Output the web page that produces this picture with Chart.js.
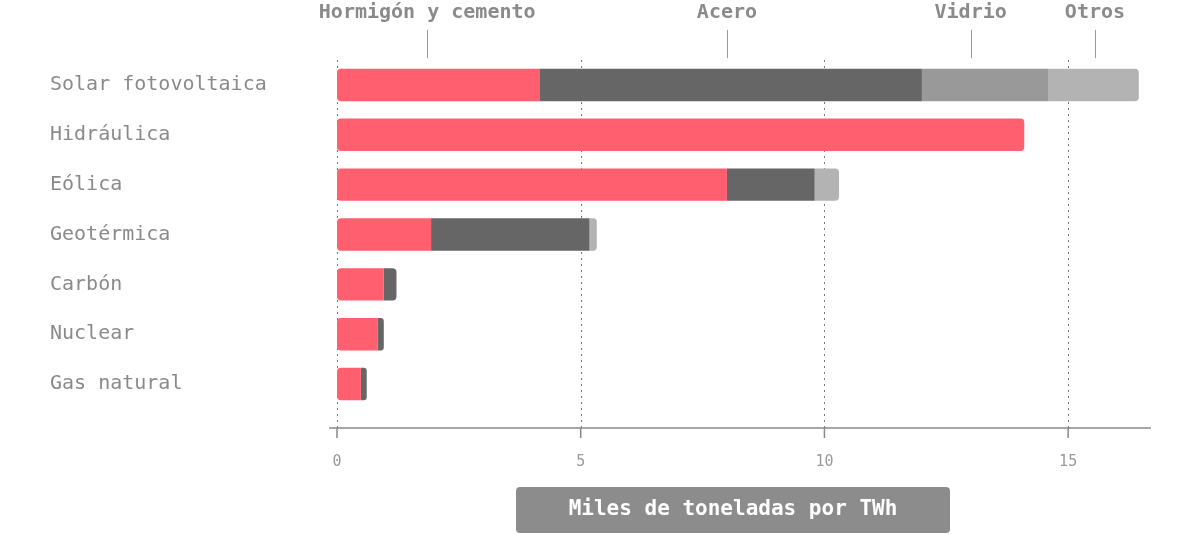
<!DOCTYPE html><html><head><meta charset="utf-8">
<script src="https://cdn.jsdelivr.net/npm/chart.js@4"></script>
<style>body{margin:0;background:#fff}#w{width:1201px;height:535px}</style></head><body>
<div id="w"><canvas id="c"></canvas></div>
<script>
const categories=["Solar fotovoltaica","Hidráulica","Eólica","Geotérmica","Carbón","Nuclear","Gas natural"];
const seriesNames=["Hormigón y cemento","Acero","Vidrio","Otros"];
const hormigon=[4.15,14.1,8.0,1.93,0.96,0.83,0.49];
const acero=[7.85,0,1.8,3.25,0.26,0.13,0.12];
const vidrio=[2.6,0,0,0,0,0,0];
const otros=[1.85,0,0.5,0.15,0,0,0];
const labelPositions=[1.85,8.0,13.0,15.55];
const xTicks=[0,5,10,15];
const colors=["#ff5f6e","#666666","#999999","#b3b3b3"];
const F="'DejaVu Sans Mono', monospace";
const all=[hormigon,acero,vidrio,otros];
function rad(di){return ctx=>{const i=ctx.dataIndex;const r=4;
 let first=all.findIndex(a=>a[i]>0);let last=-1;all.forEach((a,k)=>{if(a[i]>0)last=k;});
 return {topLeft:di===first?r:0,bottomLeft:di===first?r:0,topRight:di===last?r:0,bottomRight:di===last?r:0};};}
const extras={id:'extras',
 beforeDatasetsDraw(ch){const c=ch.ctx,x=ch.scales.x,a=ch.chartArea;c.save();
  c.strokeStyle='#777';c.lineWidth=1;c.setLineDash([2,4]);
  xTicks.forEach(t=>{const px=Math.round(x.getPixelForValue(t))+0.5;c.beginPath();c.moveTo(px,60);c.lineTo(px,428);c.stroke();});
  c.restore();},
 afterDraw(ch){const c=ch.ctx,x=ch.scales.x,y=ch.scales.y;c.save();
  c.strokeStyle='#888';c.lineWidth=1.5;c.beginPath();c.moveTo(329,428);c.lineTo(1151,428);c.stroke();
  c.fillStyle='#999';c.font="15px "+F;c.textAlign='center';c.textBaseline='middle';
  xTicks.forEach(t=>{const px=x.getPixelForValue(t);c.beginPath();c.moveTo(px,428);c.lineTo(px,438);c.stroke();c.fillText(String(t),px,462);});
  c.font="20px "+F;c.textAlign='left';c.fillStyle='#8a8a8a';
  categories.forEach((n,i)=>c.fillText(n,50,y.getPixelForValue(i)));
  c.font="bold 20px "+F;c.textAlign='center';c.fillStyle='#8a8a8a';c.strokeStyle='#999';c.lineWidth=1;
  seriesNames.forEach((n,i)=>{const px=x.getPixelForValue(labelPositions[i]);c.fillText(n,px,13);
   c.beginPath();c.moveTo(Math.round(px)+0.5,30);c.lineTo(Math.round(px)+0.5,58);c.stroke();});
  c.fillStyle='#8c8c8c';c.beginPath();c.roundRect(516,487,434,46,4);c.fill();
  c.fillStyle='#fff';c.font="bold 21px "+F;c.fillText("Miles de toneladas por TWh",733,510);
  c.restore();}};
new Chart(document.getElementById('c'),{type:'bar',
 data:{labels:categories,datasets:all.map((d,i)=>({label:seriesNames[i],data:d,backgroundColor:colors[i],borderRadius:rad(i),borderSkipped:false,barPercentage:0.65,categoryPercentage:1}))},
 options:{indexAxis:'y',responsive:true,maintainAspectRatio:false,animation:false,
  layout:{padding:{left:329,right:50,top:60,bottom:118}},
  plugins:{legend:{display:false},tooltip:{enabled:false}},
  scales:{x:{stacked:true,min:0,max:16.7,ticks:{display:false},grid:{display:false},border:{display:false}},
   y:{stacked:true,ticks:{display:false},grid:{display:false},border:{display:false}}}},
 plugins:[extras]});
</script></body></html>
